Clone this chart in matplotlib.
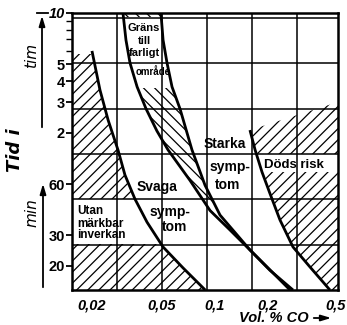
import numpy as np
import matplotlib.pyplot as plt
from matplotlib.patches import Polygon, Rectangle
from matplotlib.transforms import ScaledTranslation

# curves: vol.% CO against time in minutes
a_co = [0.020, 0.0222, 0.0247, 0.0281, 0.0308, 0.0351, 0.0411, 0.0507, 0.0658, 0.088]
a_min = [360, 213, 142, 95, 67.7, 49, 35.9, 25.7, 19.4, 14.4]
b_co = [0.030, 0.0312, 0.0329, 0.0361, 0.0406, 0.0468, 0.0541, 0.0721, 0.0937, 0.1217, 0.152, 0.200, 0.267]
b_min = [600, 417, 306, 222, 165, 122.5, 95, 63, 42, 32.3, 25.7, 19.4, 14.4]
c_co = [0.0493, 0.0507, 0.0534, 0.057, 0.0633, 0.074, 0.0878, 0.1068, 0.158, 0.205, 0.2775]
c_min = [600, 417, 306, 222, 165, 95, 59, 39.5, 24.7, 18.8, 14.4]
d_co = [0.158, 0.169, 0.185, 0.205, 0.234, 0.2775, 0.347, 0.45]
d_min = [124, 95, 70.5, 53, 37, 25.7, 19.6, 14.4]
death_top = [(0.158, 124), (0.5, 181)]

x_ticks = [0.02, 0.05, 0.1, 0.2, 0.5]
x_labels = ['0,02', '0,05', '0,1', '0,2', '0,5']
y_ticks = [600, 300, 240, 180, 120, 60, 30, 20]
y_labels = ['10', '5', '4', '3', '2', '60', '30', '20']
y_minor = [360, 420, 480, 540]

xmin, xmax = 0.0154, 0.5
ymin, ymax = 14.4, 600

narrow = ['Liberation Sans', 'DejaVu Sans']
plt.rcParams['hatch.linewidth'] = 0.9

fig = plt.figure(figsize=(3.47, 3.25), dpi=100)
ax = fig.add_axes([72 / 347, 35 / 325, 266 / 347, 277 / 325])
ax.set_xscale('log')
ax.set_yscale('log')
ax.set_xlim(xmin, xmax)
ax.set_ylim(ymin, ymax)

# uniform drawing grid (not tied to tick values)
for gx in xmin * 10 ** (0.2557 * np.arange(1, 6)):
    ax.axvline(gx, color='black', lw=1.1, zorder=1)
for gy in ymin * 10 ** (0.265 * np.arange(1, 7)):
    ax.axhline(gy, color='black', lw=1.1, zorder=1)


def hatched(verts, bands, hatch):
    for y0, y1 in bands:
        p = Polygon(verts, closed=True, fill=False, hatch=hatch,
                    edgecolor='black', lw=0, zorder=2)
        ax.add_patch(p)
        clip = Rectangle((xmin, y0), xmax - xmin, y1 - y0, transform=ax.transData)
        p.set_clip_path(clip)


left_verts = [(xmin, ymin)] + list(zip(a_co, a_min))[::-1] + [(xmin, a_min[0])]
hatched(left_verts, [(ymin, 26.6), (49, 345)], '///')

band_verts = list(zip(b_co, b_min)) + list(zip(c_co, c_min))[::-1]
hatched(band_verts, [(40.6, 218), (565, 600)], '\\\\\\')

death_verts = list(zip(d_co, d_min)) + [(xmax, ymin)] + death_top[::-1]
hatched(death_verts, [(ymin, 70.5), (89.9, 200)], '///')

for xs, ys in [(a_co, a_min), (b_co, b_min), (c_co, c_min), (d_co, d_min)]:
    ax.plot(xs, ys, color='black', lw=2.0, zorder=3, solid_capstyle='butt')

for s in ax.spines.values():
    s.set_linewidth(1.8)

ax.set_xticks(x_ticks)
ax.set_xticklabels(x_labels, fontsize=10.5, fontstyle='italic', fontweight='bold', family=narrow)
ax.set_xticks([], minor=True)
ax.tick_params(axis='x', length=0, pad=6)
last = ax.get_xticklabels()[-1]
last.set_ha('right')
last.set_transform(last.get_transform() + ScaledTranslation(8 / 100, 0, fig.dpi_scale_trans))
ax.set_yticks(y_ticks)
ax.set_yticklabels(y_labels, fontsize=10.5, fontweight='bold', family=narrow)
ax.set_yticks(y_minor, minor=True)
ax.set_yticklabels([], minor=True)
ax.tick_params(axis='y', which='major', length=4, width=1.3, pad=1)
ax.tick_params(axis='y', which='minor', length=4, width=1.0)
ax.get_yticklabels()[0].set_fontstyle('italic')

tkw = dict(transform=ax.transAxes, family=narrow, fontweight='bold', ha='center', va='center', zorder=4)
ax.text(0.271, 0.946, 'Gräns', fontsize=8, **tkw)
ax.text(0.271, 0.898, 'till', fontsize=8, **tkw)
ax.text(0.271, 0.857, 'farligt', fontsize=8, **tkw)
ax.text(0.305, 0.787, 'område', fontsize=7, **tkw)
ax.text(0.575, 0.527, 'Starka', fontsize=10, **tkw)
ax.text(0.594, 0.444, 'symp-', fontsize=10, **tkw)
ax.text(0.586, 0.379, 'tom', fontsize=10, **tkw)
ax.text(0.320, 0.372, 'Svaga', fontsize=10, **tkw)
ax.text(0.368, 0.282, 'symp-', fontsize=10, **tkw)
ax.text(0.387, 0.227, 'tom', fontsize=10, **tkw)
ax.text(0.835, 0.451, 'Döds risk', fontsize=9.5, **tkw)
lkw = dict(tkw, ha='left')
ax.text(0.019, 0.285, 'Utan', fontsize=8.5, **lkw)
ax.text(0.019, 0.240, 'märkbar', fontsize=8.5, **lkw)
ax.text(0.019, 0.198, 'inverkan', fontsize=8.5, **lkw)

# axis titles and arrows
fig.text(15 / 347, 1 - 150 / 325, 'Tid i', rotation=90, fontsize=13, fontstyle='italic',
         fontweight='bold', ha='center', va='center')
fig.text(32 / 347, 1 - 55 / 325, 'tim', rotation=90, fontsize=11, fontstyle='italic',
         ha='center', va='center')
fig.text(32 / 347, 1 - 213 / 325, 'min', rotation=90, fontsize=11, fontstyle='italic',
         ha='center', va='center')
arrow = dict(arrowstyle='-|>,head_length=0.6,head_width=0.18', color='black', lw=1.3)
ax.annotate('', xy=(42, 312), xytext=(42, 195), xycoords='figure pixels', arrowprops=arrow)
ax.annotate('', xy=(43, 144), xytext=(43, 35), xycoords='figure pixels', arrowprops=arrow)
fig.add_artist(plt.Line2D([37 / 347, 48 / 347], [312 / 325, 312 / 325], color='black', lw=1.3))
fig.text(274 / 347, 7 / 325, 'Vol. % CO', fontsize=10.5, fontstyle='italic', fontweight='bold',
         family=narrow, ha='center', va='center')
ax.annotate('', xy=(334, 7), xytext=(311, 7), xycoords='figure pixels', arrowprops=arrow)

fig.savefig('out.png', dpi=100)
